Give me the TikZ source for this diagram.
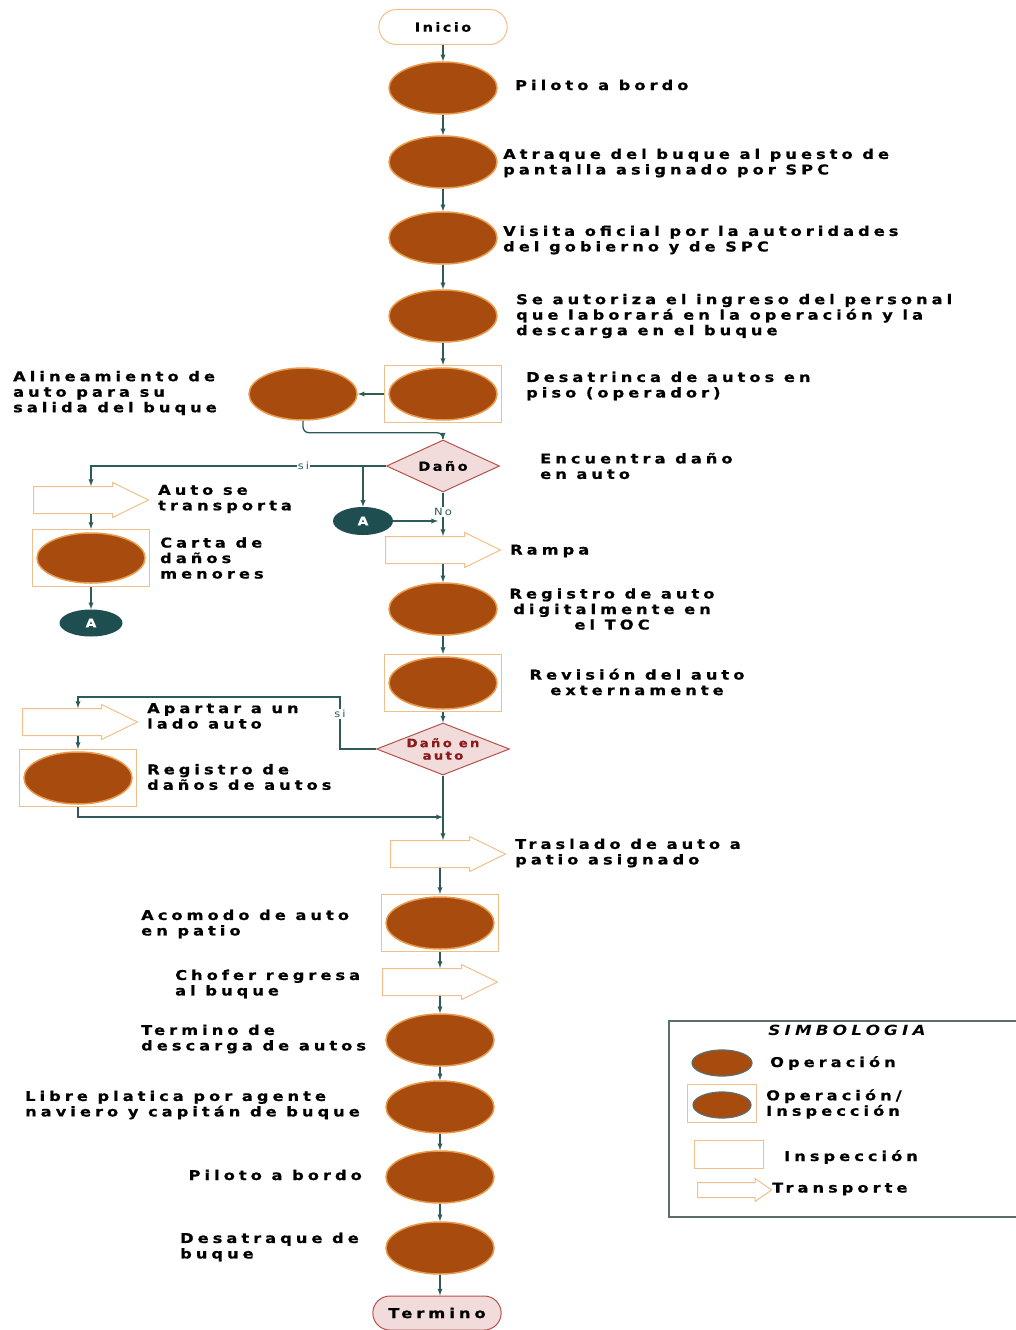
\documentclass[tikz,border=0pt]{standalone}
\usepackage{fontspec}
\newfontfamily\flowfont{DejaVu Sans}[LetterSpace=30,FakeStretch=1.2,BoldFeatures={FakeBold=0.8}]
\newfontfamily\shapefont{DejaVu Sans}[LetterSpace=20,FakeStretch=1.15,BoldFeatures={FakeBold=0.8}]
\usetikzlibrary{shapes.geometric,shapes.arrows,shapes.misc}

\definecolor{opfill}{HTML}{A84B0E}
\definecolor{opedge}{HTML}{E8994A}
\definecolor{boxedge}{HTML}{EFC08B}
\definecolor{decfill}{HTML}{F2DCDB}
\definecolor{decedge}{HTML}{B5504C}
\definecolor{decred}{HTML}{8B1A1A}
\definecolor{linec}{HTML}{2E5A5A}
\definecolor{connfill}{HTML}{1F4E50}
\definecolor{legedge}{HTML}{5A6E6E}

\begin{document}
\begin{tikzpicture}[x=1pt,y=-1pt,>=latex]
    \tikzstyle{every node}=[font=\fontsize{13.5}{15.5}\selectfont\flowfont\bfseries]
    \tikzstyle{oper}=[ellipse,fill=opfill,draw=opedge,line width=1.5pt,minimum width=108pt,minimum height=52pt,inner sep=0pt]
    \tikzstyle{insp}=[rectangle,draw=boxedge,line width=1pt,minimum width=117pt,minimum height=57pt,inner sep=0pt]
    \tikzstyle{transp}=[single arrow,draw=boxedge,line width=1pt,minimum height=115pt,inner sep=13pt,single arrow head extend=4pt,single arrow tip angle=52,anchor=tail]
    \tikzstyle{decis}=[diamond,fill=decfill,draw=decedge,line width=1pt,minimum width=113pt,minimum height=52pt,inner sep=0pt]
    \tikzstyle{term}=[rounded rectangle,line width=1pt,minimum width=135pt,minimum height=35pt]
    \tikzstyle{conn}=[ellipse,fill=connfill,text=white,minimum width=60pt,minimum height=28pt,inner sep=0pt,font=\fontsize{12}{14}\selectfont\shapefont\bfseries]
    \tikzstyle{txt}=[align=left,anchor=west,inner sep=0pt]
    \tikzstyle{flow}=[draw=linec,line width=1.3pt,->]
    \tikzstyle{yesno}=[fill=white,text=linec,font=\fontsize{10}{11}\selectfont\shapefont,inner sep=1pt]

    \useasboundingbox (0,0) rectangle (1015,1330);

    \node[term,draw=boxedge,fill=white,font=\fontsize{12.5}{14}\selectfont\shapefont\bfseries] (ini) at (443,27) {Inicio};

    \node[oper] (op1) at (443,88) {};
    \node[txt] (t1) at (515,85) {Piloto a bordo};

    \node[oper] (op2) at (443,162) {};
    \node[txt] (t2) at (503,163) {Atraque del buque al puesto de\\pantalla asignado por SPC};

    \node[oper] (op3) at (443,238) {};
    \node[txt] (t3) at (503,240) {Visita oficial por la autoridades\\del gobierno y de SPC};

    \node[oper] (op4) at (443,316) {};
    \node[txt] (t4) at (516,316) {Se autoriza el ingreso del personal\\que laborará en la operación y la\\descarga en el buque};

    \node[insp] (box5) at (443,394) {};
    \node[oper] (op5) at (443,394) {};
    \node[txt] (t5) at (526,386) {Desatrinca de autos en\\piso (operador)};

    \node[oper] (alin) at (303,394) {};
    \node[txt] (talin) at (13,393) {Alineamiento de\\auto para su\\salida del buque};

    \node[decis,label={[font=\fontsize{12.5}{14}\selectfont\shapefont\bfseries]center:Daño}] (dec1) at (443,466) {};
    \node[txt] (tdec1) at (540,466) {Encuentra daño\\en auto};

    \node[conn] (connA) at (363,521) {A};

    \node[transp] (tr1) at (33,500) {};
    \node[txt] (ttr1) at (158,499) {Auto se\\transporta};

    \node[insp] (box6) at (91,558) {};
    \node[oper,minimum height=50pt] (op6) at (91,558) {};
    \node[txt] (t6) at (160,558) {Carta de\\daños\\menores};

    \node[conn,minimum width=63pt,minimum height=27pt] (connB) at (91,623) {A};

    \node[transp] (tr3) at (385,550) {};
    \node[txt] (ttr3) at (510,551) {Rampa};

    \node[oper] (op7) at (443,609) {};
    \node[align=center] (t7) at (612,609) {Registro de auto\\digitalmente en\\el TOC};

    \node[insp] (box8) at (443,683) {};
    \node[oper] (op8) at (443,683) {};
    \node[align=center] (t8) at (637,682) {Revisión del auto\\externamente};

    \node[decis,minimum width=133pt,label={[text=decred,align=center,font=\fontsize{11.5}{12.5}\selectfont\shapefont\bfseries]center:{Daño en\\auto}}] (dec2) at (443,749) {};

    \node[transp] (tr4) at (22,722) {};
    \node[txt] (ttr4) at (147,716) {Apartar a un\\lado auto};

    \node[insp] (box9) at (78,778) {};
    \node[oper] (op9) at (78,778) {};
    \node[txt] (t9) at (147,777) {Registro de\\daños de autos};

    \coordinate (k1) at (340,697);
    \coordinate (k2) at (443,817);

    \node[transp] (tr5) at (390,854) {};
    \node[txt] (ttr5) at (515,853) {Traslado de auto a\\patio asignado};

    \node[insp] (box10) at (440,923) {};
    \node[oper] (op10) at (440,923) {};
    \node[txt] (t10) at (141,924) {Acomodo de auto\\en patio};

    \node[transp] (tr6) at (382,982) {};
    \node[txt] (ttr6) at (175,984) {Chofer regresa\\al buque};

    \node[oper] (op11) at (440,1040) {};
    \node[txt] (t11) at (141,1039) {Termino de\\descarga de autos};

    \node[oper] (op12) at (440,1107) {};
    \node[txt] (t12) at (25,1105) {Libre platica por agente\\naviero y capitán de buque};

    \node[oper] (op13) at (440,1177) {};
    \node[txt,anchor=east] (t13) at (362,1175) {Piloto a bordo};

    \node[oper] (op14) at (440,1248) {};
    \node[txt] (t14) at (180,1247) {Desatraque de\\buque};

    \node[term,draw=decedge,fill=decfill,minimum height=34pt] (fin) at (437,1313) {Termino};

    \draw[flow] (ini.south) -- (op1.north);
    \draw[flow] (op1.south) -- (op2.north);
    \draw[flow] (op2.south) -- (op3.north);
    \draw[flow] (op3.south) -- (op4.north);
    \draw[flow] (op4.south) -- (box5.north);
    \draw[flow] (box5.west) -- (alin.east);
    \draw[flow,rounded corners=6pt] (alin.south) -- ++(0,12) -| (dec1.north);

    \draw[flow] (dec1.west) -| node[yesno,pos=0.14]{si} (box6.north |- tr1.north);
    \draw[flow] (connA.north |- dec1.west) -- (connA.north);
    \draw[flow] (connA.east) -- ([xshift=-5pt]connA.east -| dec1.south);
    \draw[flow] (dec1.south) -- node[yesno,pos=0.45]{No} (dec1.south |- tr3.north);

    \draw[flow] (box6.north |- tr1.south) -- (box6.north);
    \draw[flow] (box6.south) -- (connB.north);

    \draw[flow] (op7.north |- tr3.south) -- (op7.north);
    \draw[flow] (op7.south) -- (box8.north);
    \draw[flow] (box8.south) -- (dec2.north);

    \draw[flow] (dec2.west) -| node[yesno,pos=0.84]{si} (k1) -| (box9.north |- tr4.north);
    \draw[flow] (box9.north |- tr4.south) -- (box9.north);
    \draw[flow] (box9.south) |- (k2);

    \draw[flow] (dec2.south) -- (dec2.south |- tr5.north);
    \draw[flow] (box10.north |- tr5.south) -- (box10.north);
    \draw[flow] (box10.south) -- (box10.south |- tr6.north);
    \draw[flow] (op11.north |- tr6.south) -- (op11.north);
    \draw[flow] (op11.south) -- (op12.north);
    \draw[flow] (op12.south) -- (op13.north);
    \draw[flow] (op13.south) -- (op14.north);
    \draw[flow] (op14.south) -- (op14.south |- fin.north);

    \draw[draw=legedge,line width=1.2pt] (669,1021) rectangle (1020,1217);
    \node[font=\fontsize{14}{16}\selectfont\flowfont\bfseries\itshape] (legt) at (847,1030) {SIMBOLOGIA};
    \node[oper,draw=legedge,line width=1.2pt,minimum width=60pt,minimum height=26pt] (lop) at (722,1063) {};
    \node[txt] (tlop) at (770,1063) {Operación};
    \node[insp,minimum width=69pt,minimum height=38pt] (lbox) at (722,1103) {};
    \node[oper,draw=legedge,line width=1.2pt,minimum width=58pt,minimum height=26pt] (lopi) at (722,1105) {};
    \node[txt] (tlopi) at (766,1104) {Operación/\\Inspección};
    \node[insp,minimum width=69pt,minimum height=28pt] (lins) at (729,1154) {};
    \node[txt] (tlins) at (784,1157) {Inspección};
    \node[transp,minimum height=74pt,inner sep=7pt,single arrow head extend=4pt,single arrow tip angle=70] (ltr) at (697,1190) {};
    \node[txt] (tltr) at (772,1189) {Transporte};
\end{tikzpicture}
\end{document}
